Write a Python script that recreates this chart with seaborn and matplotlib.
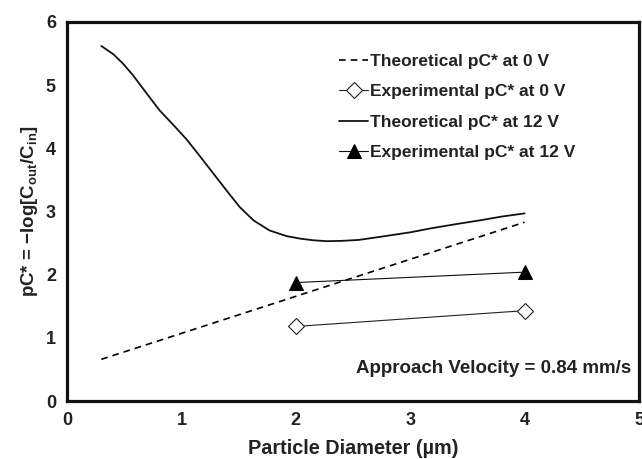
import matplotlib
matplotlib.use("Agg")
import matplotlib.pyplot as plt
import seaborn as sns
import pandas as pd

# Data
theo0_x = [0.3, 4.0]
theo0_y = [0.66, 2.83]
exp0_x = [2, 4]
exp0_y = [1.18, 1.43]
theo12_x = [0.30, 0.405, 0.49, 0.58, 0.70, 0.81, 0.93, 1.046, 1.16, 1.28, 1.40,
            1.51, 1.63, 1.77, 1.92, 2.04, 2.15, 2.27, 2.40, 2.55, 2.74, 3.00,
            3.17, 3.40, 3.61, 3.80, 4.00]
theo12_y = [5.62, 5.49, 5.34, 5.15, 4.86, 4.60, 4.37, 4.14, 3.88, 3.60, 3.32,
            3.07, 2.86, 2.70, 2.61, 2.57, 2.545, 2.53, 2.535, 2.55, 2.60, 2.67,
            2.73, 2.80, 2.86, 2.92, 2.97]
exp12_x = [2, 4]
exp12_y = [1.875, 2.04]
labels = ["Theoretical pC* at 0 V", "Experimental pC* at 0 V",
          "Theoretical pC* at 12 V", "Experimental pC* at 12 V"]
xticks = [0, 1, 2, 3, 4, 5]
yticks = [0, 1, 2, 3, 4, 5, 6]

sns.set_theme(style="white")
plt.rcParams['font.family'] = ['Liberation Sans', 'DejaVu Sans']
plt.rcParams['font.weight'] = 'bold'
plt.rcParams['mathtext.fontset'] = 'custom'
plt.rcParams['mathtext.rm'] = 'Liberation Sans:bold'
plt.rcParams['mathtext.it'] = 'Liberation Sans:bold'
plt.rcParams['mathtext.bf'] = 'Liberation Sans:bold'
plt.rcParams['mathtext.default'] = 'bf'

fig = plt.figure(figsize=(6.42, 4.59), dpi=100)
ax = fig.add_axes([67/642, 1 - 401/459, (639 - 67)/642, (401 - 22)/459])

df0 = pd.DataFrame({"x": theo0_x, "y": theo0_y})
dfe0 = pd.DataFrame({"x": exp0_x, "y": exp0_y})
df12 = pd.DataFrame({"x": theo12_x, "y": theo12_y})
dfe12 = pd.DataFrame({"x": exp12_x, "y": exp12_y})

sns.lineplot(data=df0, x="x", y="y", ax=ax, color="black", lw=1.2,
             label=labels[0], sort=False)
ax.lines[-1].set_dashes((4, 3))
sns.lineplot(data=dfe0, x="x", y="y", ax=ax, color="#222222", lw=0.8,
             marker="D", markersize=8, markerfacecolor="white",
             markeredgecolor="#222222", markeredgewidth=0.8, label=labels[1])
sns.lineplot(data=df12, x="x", y="y", ax=ax, color="#111111", lw=1.3,
             label=labels[2], sort=False)
sns.lineplot(data=dfe12, x="x", y="y", ax=ax, color="#111111", lw=0.8,
             marker="^", markersize=10, markerfacecolor="black",
             markeredgecolor="black", label=labels[3])

ax.set_xlim(0, 5)
ax.set_ylim(0, 6)
ax.set_xticks(xticks)
ax.set_yticks(yticks)
ax.tick_params(direction="in", length=5, width=1, colors="#333333",
               labelcolor="#222222", labelsize=13)
ax.tick_params(axis="x", pad=8)
ax.tick_params(axis="y", pad=8)
for lab in ax.get_xticklabels() + ax.get_yticklabels():
    lab.set_fontweight("bold")
for s in ax.spines.values():
    s.set_linewidth(2.3)
    s.set_color("#111111")

ax.set_xlabel("Particle Diameter (µm)", fontsize=14.3, fontweight="bold",
              labelpad=7, color="#222222")
ax.set_ylabel(r"pC* = −log[C$_{out}$/C$_{in}$]", fontsize=13.5, fontweight="bold",
              labelpad=4, color="#222222")

ax.text(4.93, 0.52, "Approach Velocity = 0.84 mm/s", ha="right", va="center",
        fontsize=13.5, fontweight="bold", color="#222222")

fs = 12.5
leg = ax.legend(loc="upper left", bbox_to_anchor=((323 - 67) / 572, (401 - 38) / 379),
                frameon=False, handlelength=1.72, handletextpad=0.1,
                labelspacing=0.88, prop={"weight": "bold", "size": fs})
for t in leg.get_texts():
    t.set_color("#222222")

fig.savefig("out.png", dpi=100)
